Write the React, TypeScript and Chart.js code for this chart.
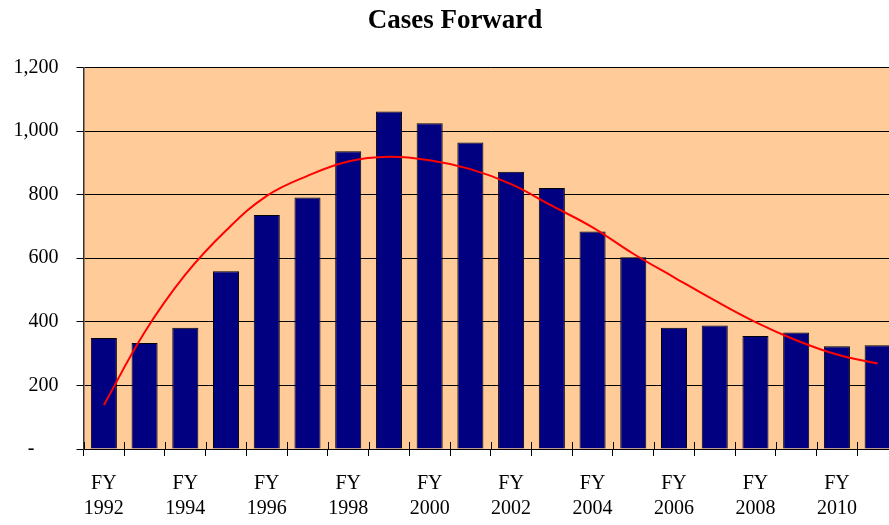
import React, { useEffect, useRef } from "react";
import { Chart, registerables } from "chart.js";

Chart.register(...registerables);

const years = ["1992","1993","1994","1995","1996","1997","1998","1999","2000","2001","2002","2003","2004","2005","2006","2007","2008","2009","2010","2011"];
const cases = [349, 333, 381, 559, 736, 791, 936, 1061, 1024, 964, 872, 821, 684, 603, 381, 388, 355, 366, 323, 326];
const trend = [138, 367, 548, 687, 796, 859, 904, 919, 908, 880, 833, 765, 697, 614, 540, 467, 399, 342, 297, 269];
const yTicks = [0, 200, 400, 600, 800, 1000, 1200];

const FONT = "'Liberation Serif', 'Times New Roman', serif";

const plotBg = {
  id: "plotBg",
  beforeDraw(chart: any) {
    const { ctx, chartArea } = chart;
    ctx.save();
    ctx.fillStyle = "#FFCC99";
    ctx.fillRect(chartArea.left, chartArea.top, chartArea.right - chartArea.left, chartArea.bottom - chartArea.top);
    ctx.restore();
  },
};

const crossTicks = {
  id: "crossTicks",
  afterDatasetsDraw(chart: any) {
    const x = chart.scales.x;
    const ctx = chart.ctx;
    const n = years.length;
    const w = (x.right - x.left) / n;
    ctx.save();
    ctx.strokeStyle = "#000";
    ctx.lineWidth = 1;
    for (let i = 0; i <= n; i++) {
      const px = Math.round(x.left + i * w) + 0.5;
      ctx.beginPath();
      ctx.moveTo(px, x.top - 7);
      ctx.lineTo(px, x.top);
      ctx.stroke();
    }
    ctx.restore();
  },
};

export default function App() {
  const ref = useRef<HTMLCanvasElement>(null);
  useEffect(() => {
    if (!ref.current) return;
    const chart = new Chart(ref.current, {
      type: "bar",
      data: {
        labels: years.map((y) => ["FY", y]),
        datasets: [
          {
            type: "line",
            data: trend,
            borderColor: "#FF0000",
            borderWidth: 2,
            pointRadius: 0,
            tension: 0.4,
            fill: false,
            order: 0,
          } as any,
          {
            type: "bar",
            data: cases,
            backgroundColor: "#000080",
            borderColor: "#000000",
            borderWidth: 1,
            barPercentage: 0.64,
            categoryPercentage: 1,
            order: 1,
          },
        ],
      },
      options: {
        responsive: false,
        animation: false,
        devicePixelRatio: 1,
        layout: { padding: { left: 12, right: 6, top: 0, bottom: 0 } },
        plugins: {
          legend: { display: false },
          tooltip: { enabled: false },
          title: {
            display: true,
            text: "Cases Forward",
            color: "#000",
            font: { family: FONT, size: 27, weight: "bold" },
            padding: { top: 5, bottom: 30 },
          },
        },
        scales: {
          x: {
            offset: true,
            afterFit: (s: any) => {
              s.height = 76;
            },
            grid: {
              display: true,
              drawOnChartArea: false,
              drawTicks: true,
              tickLength: 7,
              color: "#000",
              offset: true,
            },
            border: { display: true, color: "#000", width: 1 },
            ticks: {
              autoSkip: false,
              maxRotation: 0,
              minRotation: 0,
              padding: 15,
              color: "#000",
              font: { family: FONT, size: 20, lineHeight: 1.25 },
              callback: function (this: any, _v: any, i: number) {
                return i % 2 === 0 ? ["FY", years[i]] : "";
              },
            },
          },
          y: {
            min: 0,
            max: 1200,
            afterBuildTicks: (s: any) => {
              s.ticks = yTicks.map((v) => ({ value: v }));
            },
            afterFit: (s: any) => {
              s.width = 71.5;
            },
            grid: {
              color: "#000",
              lineWidth: 1,
              tickLength: 7,
            },
            border: { display: true, color: "#333", width: 1.5 },
            ticks: {
              padding: 18,
              color: "#000",
              font: { family: FONT, size: 20 },
              callback: (v: any) => (Number(v) === 0 ? "-    \u2009" : Number(v).toLocaleString("en-US")),
            },
          },
        },
      },
      plugins: [plotBg, crossTicks],
    });
    return () => chart.destroy();
  }, []);

  return (
    <div style={{ position: "absolute", left: 0, top: 0, width: 889, height: 525, overflow: "hidden", background: "#fff" }}>
      <canvas ref={ref} width={904} height={525} style={{ display: "block" }} />
    </div>
  );
}
